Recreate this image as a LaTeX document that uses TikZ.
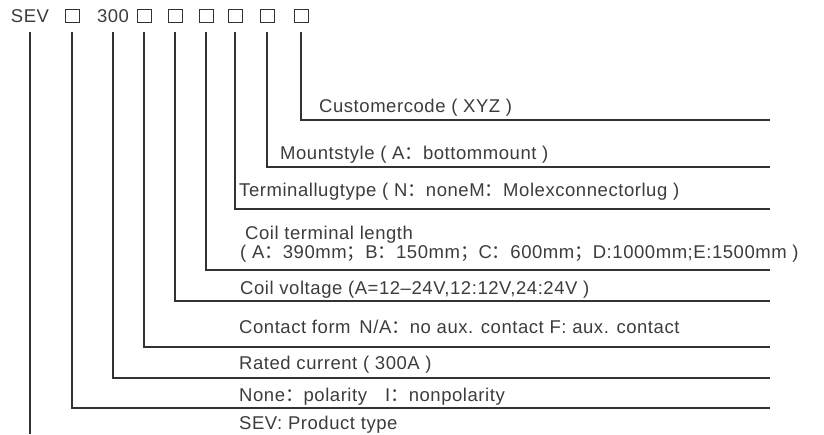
\documentclass[tikz,border=0pt]{standalone}
\usepackage{fontspec}
\setmainfont{Liberation Sans}[LetterSpace=3]
\newfontfamily\cjk{Noto Sans CJK SC}
\usetikzlibrary{positioning}
\definecolor{inkgray}{RGB}{60,60,60}
\definecolor{linegray}{RGB}{50,50,50}
% full-width punctuation as printed
\newcommand{\fwc}{{\cjk ：}}
\newcommand{\fws}{{\cjk ；}}

\begin{document}
\begin{tikzpicture}[x=1pt,y=-1pt,
    every node/.style={text=inkgray, font=\fontsize{18.5}{22}\selectfont},
    headtext/.style={inner sep=0pt, minimum height=14pt},
    codebox/.style={draw=linegray, line width=0.9pt, minimum width=14pt, minimum height=13pt, inner sep=0pt},
    lead/.style={draw=linegray, line width=1.5pt, shorten <=9pt},
    desc/.style={anchor=base west, inner sep=0pt}]
    \useasboundingbox (0,0) rectangle (824,434);

    % Code row
    \node[headtext] (sev) at (30,16) {SEV};
    \node[codebox] (b1) at (72,16) {};
    \node[headtext] (n300) at (113,16) {300};
    \node[codebox] (b2) at (144,16) {};
    \node[codebox] (b3) at (175,16) {};
    \node[codebox] (b4) at (206,16) {};
    \node[codebox] (b5) at (235,16) {};
    \node[codebox] (b6) at (267,16) {};
    \node[codebox] (b7) at (301,16) {};

    % Line ends
    \coordinate (e0) at (30,434);
    \coordinate (e1) at (770,408);
    \coordinate (e2) at (770,378);
    \coordinate (e3) at (770,347);
    \coordinate (e4) at (770,301);
    \coordinate (e5) at (770,270);
    \coordinate (e6) at (770,209);
    \coordinate (e7) at (770,167);
    \coordinate (e8) at (770,120);

    % Leader lines
    \draw[lead] (sev) -- (e0);
    \draw[lead] (b1) |- (e1);
    \draw[lead] (n300) |- (e2);
    \draw[lead] (b2) |- (e3);
    \draw[lead] (b3) |- (e4);
    \draw[lead] (b4) |- (e5);
    \draw[lead] (b5) |- (e6);
    \draw[lead] (b6) |- (e7);
    \draw[lead] (b7) |- (e8);

    % Descriptions
    \node[desc] (customer) at (319,112) {Customercode ( XYZ )};
    \node[desc] (mount) at (280,159) {Mountstyle ( A\fwc bottommount )};
    \node[desc] (lug) at (239,196) {Terminallugtype ( N\fwc noneM\fwc Molexconnectorlug )};
    \node[desc] (length) at (245,239) {Coil terminal length};
    \node[desc] (lengthopt) at (240,258) {( A\fwc 390mm\fws B\fwc 150mm\fws C\fwc 600mm\fws D:1000mm;E:1500mm )};
    \node[desc] (voltage) at (240,294) {Coil voltage (A=12–24V,12:12V,24:24V )};
    \node[desc] (contact) at (239,333) {Contact form \,N/A\fwc no aux. contact F: aux. contact};
    \node[desc] (current) at (239,369) {Rated current ( 300A )};
    \node[desc] (polarity) at (239,401) {None\fwc polarity\hspace{18pt}I\fwc nonpolarity};
    \node[desc] (product) at (239,429) {SEV: Product type};
\end{tikzpicture}
\end{document}
